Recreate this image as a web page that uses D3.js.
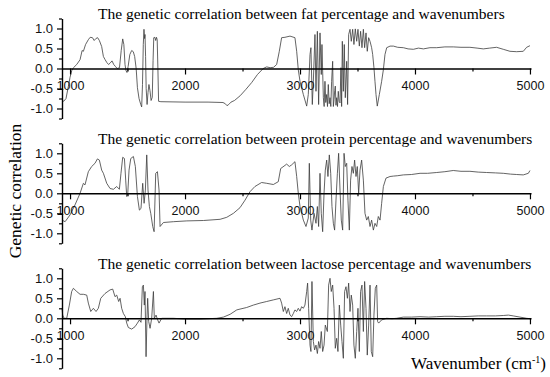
<!DOCTYPE html>
<html><head><meta charset="utf-8">
<script src="https://cdn.jsdelivr.net/npm/d3@7"></script>
<style>
html,body{margin:0;padding:0;background:#fff;}
svg{display:block;}
</style></head>
<body>
<svg id="c" width="550" height="377"></svg>
<script>
// ---------------- DATA ----------------
const panelTitles = [
  "The genetic correlation between fat percentage and wavenumbers",
  "The genetic correlation between protein percentage and wavenumbers",
  "The genetic correlation between lactose percentage and wavenumbers"
];
const xTicks = [1000, 2000, 3000, 4000, 5000];
const xMinorTicks = [1500, 2500, 3500, 4500];
const yTicks = [-1.0, -0.5, 0.0, 0.5, 1.0];
const yMinorTicks = [-1.25, -0.75, -0.25, 0.25, 0.75, 1.25];

const fatPoints = [
[930,-0.78],[945,-0.82],[965,-0.75],[985,-0.45],[1000,-0.22],[1015,-0.05],[1030,0.02],[1058,0.10],[1087,0.22],
[1105,0.45],[1116,0.43],[1135,0.60],[1159,0.72],[1175,0.78],[1195,0.77],[1210,0.70],[1225,0.75],[1240,0.77],
[1255,0.70],[1275,0.55],[1290,0.30],[1305,0.22],[1320,0.15],[1335,0.10],[1350,0.14],[1365,0.19],[1380,0.10],
[1395,0.05],[1410,0.0],[1430,0.02],[1445,0.45],[1458,0.74],[1468,0.60],[1478,0.10],[1486,-0.05],[1495,-0.10],
[1505,0.05],[1520,0.35],[1536,0.45],[1550,0.42],[1562,0.30],[1575,0.0],[1586,-0.48],[1600,-0.75],[1615,-0.90],
[1623,-0.96],[1630,-0.40],[1637,0.60],[1643,0.98],[1648,0.75],[1652,0.85],[1657,0.30],[1662,-0.50],[1670,-0.90],
[1678,-0.60],[1686,-0.40],[1695,-0.55],[1705,-0.80],[1715,-0.72],[1722,0.20],[1728,0.77],[1738,0.78],[1745,0.70],
[1752,0.78],[1758,0.72],[1764,0.0],[1770,-0.82],[1790,-0.83],[2000,-0.84],[2200,-0.84],[2330,-0.85],[2350,-0.88],
[2365,-0.93],[2380,-0.90],[2400,-0.84],[2430,-0.80],[2480,-0.68],[2530,-0.52],[2580,-0.35],[2630,-0.15],[2680,0.0],
[2710,0.04],[2740,0.02],[2770,0.03],[2797,0.10],[2820,0.43],[2840,0.77],[2869,0.78],[2913,0.81],[2956,0.77],
[2971,0.43],[2985,-0.03],[3000,-0.32],[3029,-0.65],[3058,-0.94],[3072,-0.65],[3087,0.35],[3095,0.52],[3107,-0.90],
[3116,-0.32],[3130,0.85],[3139,-0.57],[3151,0.93],[3162,-0.90],[3174,0.89],[3185,-0.15],[3191,0.60],[3203,-0.73],
[3210,-0.95],[3217,-0.32],[3224,-0.85],[3232,-0.65],[3239,-0.95],[3246,-0.40],[3254,-0.88],[3261,-0.73],[3268,-0.95],
[3275,-0.32],[3284,0.18],[3290,-0.95],[3296,-0.78],[3302,-0.55],[3307,-0.44],[3313,-0.92],[3319,-0.73],[3326,-0.95],
[3333,-0.57],[3340,-0.82],[3348,-0.86],[3356,0.02],[3362,-0.95],[3368,0.68],[3377,-0.57],[3385,0.60],[3394,-0.73],
[3406,0.18],[3414,-0.90],[3423,0.85],[3435,0.98],[3446,0.68],[3458,0.98],[3469,0.60],[3481,0.99],[3493,0.68],
[3504,0.98],[3516,0.56],[3527,0.93],[3539,0.52],[3551,0.98],[3562,0.52],[3574,0.89],[3585,0.43],[3597,0.77],
[3609,0.68],[3623,0.52],[3632,0.35],[3643,0.02],[3652,-0.32],[3661,-0.65],[3672,-0.94],[3690,-0.65],[3710,-0.32],
[3725,-0.03],[3739,0.35],[3754,0.52],[3783,0.56],[3812,0.56],[3850,0.53],[3899,0.52],[3940,0.49],[3986,0.48],
[4030,0.51],[4073,0.49],[4130,0.52],[4189,0.52],[4260,0.54],[4333,0.54],[4400,0.53],[4478,0.53],[4540,0.51],
[4594,0.49],[4650,0.51],[4710,0.53],[4768,0.48],[4826,0.43],[4884,0.42],[4942,0.43],[4971,0.53],[5000,0.57]
];

const proteinPoints = [
[930,-0.67],[957,-0.71],[1000,-0.54],[1043,-0.29],[1087,0.0],[1116,0.25],[1130,0.21],[1159,0.54],[1188,0.67],
[1217,0.75],[1238,0.86],[1255,0.83],[1275,0.58],[1290,0.50],[1319,0.25],[1348,0.12],[1377,0.10],[1406,0.17],
[1429,0.10],[1443,0.50],[1458,0.90],[1473,0.87],[1484,0.33],[1493,-0.08],[1502,0.0],[1513,0.58],[1528,0.87],
[1551,0.92],[1568,0.67],[1586,-0.08],[1603,-0.42],[1617,-0.38],[1632,0.25],[1644,-0.25],[1655,0.08],[1667,0.96],
[1678,0.08],[1690,-0.33],[1702,-0.50],[1719,-0.83],[1731,-0.96],[1745,0.50],[1760,0.54],[1774,0.08],[1783,-0.83],
[1812,-0.73],[1899,-0.71],[2015,-0.69],[2160,-0.68],[2305,-0.65],[2363,-0.60],[2421,-0.50],[2478,-0.36],
[2522,-0.17],[2565,0.04],[2608,0.17],[2666,0.27],[2710,0.25],[2768,0.22],[2811,0.29],[2832,0.62],[2861,0.68],
[2884,0.73],[2907,0.67],[2927,0.71],[2956,0.79],[2971,0.42],[2985,0.0],[3000,-0.33],[3029,-0.67],[3052,-0.83],
[3072,-0.62],[3081,0.75],[3093,-0.67],[3104,-0.92],[3122,-0.50],[3139,-0.75],[3151,-0.33],[3162,-0.83],[3174,0.50],
[3185,-0.50],[3197,-0.96],[3209,0.0],[3220,0.58],[3232,0.83],[3243,0.42],[3255,0.96],[3267,0.50],[3278,-0.33],
[3290,-0.75],[3301,-0.92],[3313,-0.17],[3325,0.50],[3336,1.0],[3348,0.08],[3359,-0.67],[3371,-0.92],[3383,1.0],
[3394,0.67],[3406,0.75],[3417,-0.17],[3429,-0.92],[3440,0.33],[3452,0.67],[3464,0.50],[3475,0.83],[3487,0.42],
[3498,0.67],[3510,0.0],[3522,0.58],[3536,0.83],[3551,0.33],[3565,-0.50],[3580,-0.67],[3594,-0.58],[3609,-0.83],
[3623,-0.67],[3638,-0.92],[3652,-0.75],[3667,-0.83],[3681,-0.58],[3696,-0.67],[3710,-0.25],[3725,0.17],[3748,0.38],
[3783,0.42],[3812,0.43],[3850,0.44],[3899,0.46],[3970,0.47],[4044,0.50],[4110,0.50],[4189,0.52],[4260,0.54],
[4333,0.57],[4400,0.55],[4478,0.55],[4550,0.53],[4623,0.52],[4700,0.51],[4768,0.50],[4830,0.48],[4884,0.47],
[4942,0.46],[4986,0.50],[5000,0.57]
];

const lactosePoints = [
[930,0.25],[936,0.08],[948,0.0],[971,0.0],[994,0.33],[1014,0.67],[1029,0.75],[1058,0.67],[1087,0.60],[1116,0.60],
[1145,0.58],[1159,0.38],[1180,0.17],[1203,0.25],[1226,0.17],[1246,0.25],[1267,0.50],[1304,0.62],[1348,0.71],
[1371,0.73],[1391,0.54],[1406,0.58],[1423,0.42],[1435,0.50],[1449,0.25],[1464,0.12],[1481,0.04],[1493,-0.12],
[1507,-0.23],[1536,-0.27],[1565,-0.21],[1586,-0.12],[1603,-0.04],[1617,-0.10],[1629,0.79],[1638,0.83],[1646,0.33],
[1652,0.67],[1661,-0.96],[1670,0.08],[1675,0.50],[1684,-0.08],[1696,-0.25],[1710,0.0],[1725,0.67],[1733,0.0],
[1748,0.08],[1762,-0.04],[1774,-0.12],[1797,0.0],[1899,0.0],[2015,-0.02],[2131,-0.02],[2276,0.0],[2334,0.03],
[2392,0.10],[2450,0.21],[2478,0.23],[2536,0.27],[2594,0.33],[2652,0.38],[2710,0.42],[2768,0.46],[2826,0.50],
[2840,0.38],[2855,0.17],[2869,0.29],[2884,0.12],[2898,0.25],[2913,0.08],[2927,0.04],[2942,0.12],[2956,0.21],
[2971,0.17],[2985,0.25],[3000,0.18],[3014,0.29],[3029,0.25],[3043,0.33],[3058,0.67],[3066,0.88],[3075,0.25],
[3087,-0.67],[3095,-0.83],[3104,0.92],[3116,-0.58],[3127,-0.79],[3139,-0.67],[3151,-0.88],[3162,-0.58],[3174,-0.75],
[3185,-0.33],[3197,-0.83],[3209,-0.67],[3220,-0.17],[3238,-0.33],[3249,0.83],[3261,1.0],[3272,0.67],[3284,0.83],
[3296,0.25],[3307,-0.75],[3319,-0.50],[3330,-0.83],[3342,0.33],[3354,-0.17],[3365,-0.58],[3377,-1.0],[3388,0.67],
[3400,0.79],[3412,0.50],[3423,0.88],[3435,0.17],[3446,0.58],[3458,0.33],[3469,-0.67],[3481,-1.0],[3493,-0.33],
[3504,0.25],[3516,-0.83],[3527,0.67],[3539,0.83],[3551,-0.33],[3562,0.92],[3574,0.25],[3585,-0.92],[3597,-0.17],
[3609,0.83],[3620,-0.83],[3632,-0.96],[3643,0.08],[3655,0.75],[3667,0.83],[3675,-0.08],[3684,-0.12],[3710,-0.04],
[3754,0.0],[3800,-0.01],[3840,0.0],[3899,0.03],[3970,0.03],[4044,0.04],[4120,0.03],[4189,0.04],[4260,0.05],
[4333,0.05],[4400,0.04],[4478,0.05],[4550,0.06],[4623,0.06],[4700,0.06],[4768,0.07],[4812,0.08],[4855,0.06],
[4913,0.03],[4971,0.0],[5000,-0.01]
];

const panelData = [fatPoints, proteinPoints, lactosePoints];

// ---------------- LAYOUT ----------------
const svg = d3.select("#c");
const x = d3.scaleLinear().domain([930, 5009]).range([62, 531]);
const zeros = [68.5, 193.3, 318.3];
const halfH = 50;

panelData.forEach((pts, i) => {
  const z = zeros[i];
  const y = d3.scaleLinear().domain([-1.25, 1.25]).range([z + halfH, z - halfH]);
  const g = svg.append("g");

  g.append("path")
    .datum(pts)
    .attr("fill", "none")
    .attr("stroke", "#3c3c3c")
    .attr("stroke-width", 0.8)
    .attr("stroke-linejoin", "round")
    .attr("d", d3.line().x(d => x(d[0])).y(d => y(d[1])));

  const xa = g.append("g").attr("transform", `translate(0,${y(0)})`)
    .call(d3.axisBottom(x).tickValues(xTicks).tickSize(6).tickSizeOuter(0).tickPadding(7).tickFormat(d3.format("d")));
  g.append("g").attr("transform", `translate(0,${y(0)})`)
    .call(d3.axisBottom(x).tickValues(xMinorTicks).tickSize(3).tickSizeOuter(0).tickFormat(""))
    .select(".domain").remove();

  const ya = g.append("g").attr("transform", `translate(${x(930)},0)`)
    .call(d3.axisLeft(y).tickValues(yTicks).tickSize(5).tickSizeOuter(0).tickPadding(4).tickFormat(d => d.toFixed(1)));
  g.append("g").attr("transform", `translate(${x(930)},0)`)
    .call(d3.axisLeft(y).tickValues(yMinorTicks).tickSize(3).tickSizeOuter(0).tickFormat(""))
    .select(".domain").remove();

  g.selectAll(".domain").attr("stroke", "#000").attr("stroke-width", 1.4);
  g.selectAll(".tick line").attr("stroke", "#000").attr("stroke-width", 1.2);
  xa.selectAll("text").attr("font-family", "Liberation Sans, Arial, sans-serif").attr("font-size", "12.5px").attr("fill", "#111");
  ya.selectAll("text").attr("font-family", "Liberation Sans, Arial, sans-serif").attr("font-size", "13px").attr("fill", "#111");

  g.append("text")
    .attr("x", 98).attr("y", z - halfH + 0.8)
    .attr("font-family", "Liberation Serif, Times New Roman, serif")
    .attr("font-size", "15.5px").attr("fill", "#000")
    .text(panelTitles[i]);
});

svg.append("text")
  .attr("transform", "translate(21,191) rotate(-90)")
  .attr("text-anchor", "middle")
  .attr("font-family", "Liberation Serif, Times New Roman, serif")
  .attr("font-size", "17.5px").attr("fill", "#000")
  .text("Genetic correlation");

const xl = svg.append("text")
  .attr("x", 546).attr("y", 369)
  .attr("text-anchor", "end")
  .attr("font-family", "Liberation Serif, Times New Roman, serif")
  .attr("font-size", "17px").attr("fill", "#000");
xl.append("tspan").text("Wavenumber (cm");
xl.append("tspan").attr("dy", -6).attr("font-size", "10px").text("-1");
xl.append("tspan").attr("dy", 6).text(")");
</script>
</body></html>
